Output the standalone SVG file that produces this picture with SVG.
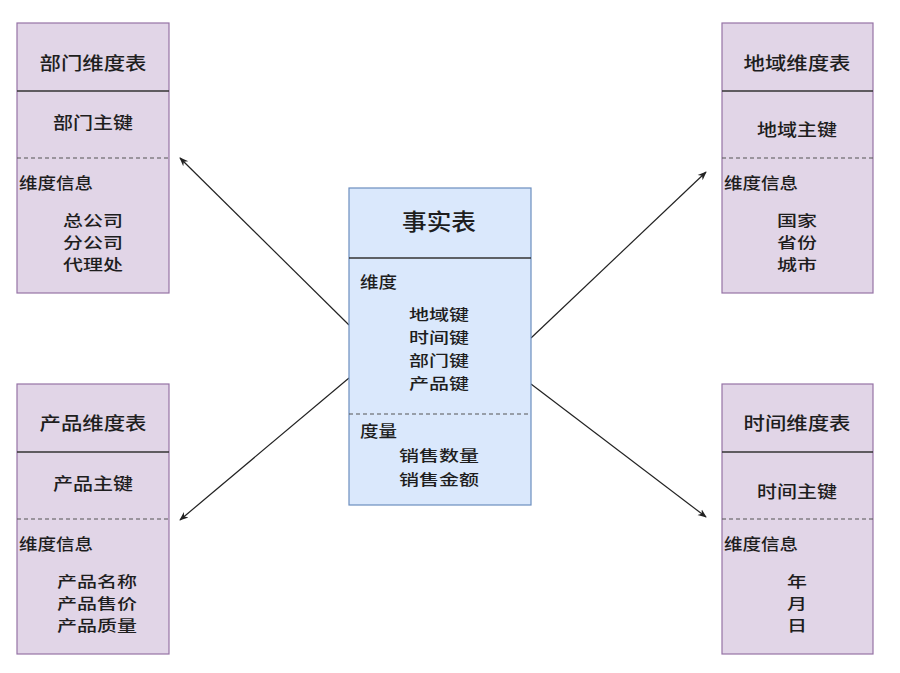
<svg xmlns="http://www.w3.org/2000/svg" width="900" height="673" viewBox="0 0 900 673">
<style>
text{font-family:"Noto Sans CJK SC","Noto Sans",sans-serif;fill:#1e1e1e;dominant-baseline:central;font-weight:500}
.t{font-size:17px;text-anchor:middle}
.m{font-size:15px;text-anchor:middle}
.s{font-size:16px}
.h{font-size:18px;text-anchor:middle}
.dim{fill:#e1d5e7;stroke:#9673a6;stroke-width:1.2}
.fact{fill:#dae8fc;stroke:#6c8ebf;stroke-width:1.2}
.sep{stroke:#333;stroke-width:1.3}
.dash{stroke:#555;stroke-width:1.2;stroke-dasharray:4 3}
.c{stroke:#222;stroke-width:1.2;fill:none;marker-end:url(#ah)}
</style>
<defs>
<marker id="ah" viewBox="0 0 10 10" refX="9" refY="5" markerWidth="9" markerHeight="9" orient="auto" markerUnits="userSpaceOnUse">
<path d="M0,1 L10,5 L0,9 L3,5 Z" fill="#222"/>
</marker>
</defs>
<rect width="900" height="673" fill="#fff"/>
<g id="connectors">
<line class="c" x1="349" y1="325" x2="180" y2="158"/>
<line class="c" x1="349" y1="378" x2="180" y2="520"/>
<line class="c" x1="531" y1="338" x2="706" y2="172"/>
<line class="c" x1="531" y1="384" x2="706" y2="517"/>
</g>
<g id="dept">
<rect class="dim" x="17" y="23" width="152" height="270"/>
<line class="sep" x1="17" y1="91" x2="169" y2="91"/>
<line class="dash" x1="17" y1="158" x2="169" y2="158"/>
<text class="h" x="93" y="62" textLength="107" lengthAdjust="spacingAndGlyphs">部门维度表</text>
<text class="t" x="93" y="121" textLength="80" lengthAdjust="spacingAndGlyphs">部门主键</text>
<text class="s" x="19" y="182" textLength="74" lengthAdjust="spacingAndGlyphs">维度信息</text>
<text class="m" x="93" y="219" textLength="60" lengthAdjust="spacingAndGlyphs">总公司</text>
<text class="m" x="93" y="241" textLength="60" lengthAdjust="spacingAndGlyphs">分公司</text>
<text class="m" x="93" y="263" textLength="60" lengthAdjust="spacingAndGlyphs">代理处</text>
</g>
<g id="region">
<rect class="dim" x="722" y="23" width="151" height="270"/>
<line class="sep" x1="722" y1="91" x2="873" y2="91"/>
<line class="dash" x1="722" y1="158" x2="873" y2="158"/>
<text class="h" x="797" y="62" textLength="107" lengthAdjust="spacingAndGlyphs">地域维度表</text>
<text class="t" x="797" y="128" textLength="80" lengthAdjust="spacingAndGlyphs">地域主键</text>
<text class="s" x="724" y="182" textLength="74" lengthAdjust="spacingAndGlyphs">维度信息</text>
<text class="m" x="797" y="219" textLength="40" lengthAdjust="spacingAndGlyphs">国家</text>
<text class="m" x="797" y="241" textLength="40" lengthAdjust="spacingAndGlyphs">省份</text>
<text class="m" x="797" y="263" textLength="40" lengthAdjust="spacingAndGlyphs">城市</text>
</g>
<g id="product">
<rect class="dim" x="17" y="384" width="152" height="270"/>
<line class="sep" x1="17" y1="452" x2="169" y2="452"/>
<line class="dash" x1="17" y1="519" x2="169" y2="519"/>
<text class="h" x="93" y="422" textLength="107" lengthAdjust="spacingAndGlyphs">产品维度表</text>
<text class="t" x="93" y="482" textLength="80" lengthAdjust="spacingAndGlyphs">产品主键</text>
<text class="s" x="19" y="543" textLength="74" lengthAdjust="spacingAndGlyphs">维度信息</text>
<text class="m" x="97" y="580" textLength="80" lengthAdjust="spacingAndGlyphs">产品名称</text>
<text class="m" x="97" y="602" textLength="80" lengthAdjust="spacingAndGlyphs">产品售价</text>
<text class="m" x="97" y="624" textLength="80" lengthAdjust="spacingAndGlyphs">产品质量</text>
</g>
<g id="time">
<rect class="dim" x="722" y="384" width="151" height="270"/>
<line class="sep" x1="722" y1="452" x2="873" y2="452"/>
<line class="dash" x1="722" y1="519" x2="873" y2="519"/>
<text class="h" x="797" y="422" textLength="107" lengthAdjust="spacingAndGlyphs">时间维度表</text>
<text class="t" x="797" y="490" textLength="80" lengthAdjust="spacingAndGlyphs">时间主键</text>
<text class="s" x="724" y="543" textLength="74" lengthAdjust="spacingAndGlyphs">维度信息</text>
<text class="m" x="797" y="580" textLength="20" lengthAdjust="spacingAndGlyphs">年</text>
<text class="m" x="797" y="602" textLength="20" lengthAdjust="spacingAndGlyphs">月</text>
<text class="m" x="797" y="624" textLength="20" lengthAdjust="spacingAndGlyphs">日</text>
</g>
<g id="fact">
<rect class="fact" x="349" y="188" width="182" height="317"/>
<line class="sep" x1="349" y1="258" x2="531" y2="258"/>
<line class="dash" x1="349" y1="414" x2="531" y2="414"/>
<text class="h" x="439" y="220" style="font-size:23px" textLength="74" lengthAdjust="spacingAndGlyphs">事实表</text>
<text class="s" x="360" y="281" textLength="37" lengthAdjust="spacingAndGlyphs">维度</text>
<text class="m" x="439" y="313" textLength="60" lengthAdjust="spacingAndGlyphs">地域键</text>
<text class="m" x="439" y="336" textLength="60" lengthAdjust="spacingAndGlyphs">时间键</text>
<text class="m" x="439" y="359" textLength="60" lengthAdjust="spacingAndGlyphs">部门键</text>
<text class="m" x="439" y="382" textLength="60" lengthAdjust="spacingAndGlyphs">产品键</text>
<text class="s" x="360" y="430" textLength="37" lengthAdjust="spacingAndGlyphs">度量</text>
<text class="m" x="439" y="454" textLength="80" lengthAdjust="spacingAndGlyphs">销售数量</text>
<text class="m" x="439" y="478" textLength="80" lengthAdjust="spacingAndGlyphs">销售金额</text>
</g>
</svg>
